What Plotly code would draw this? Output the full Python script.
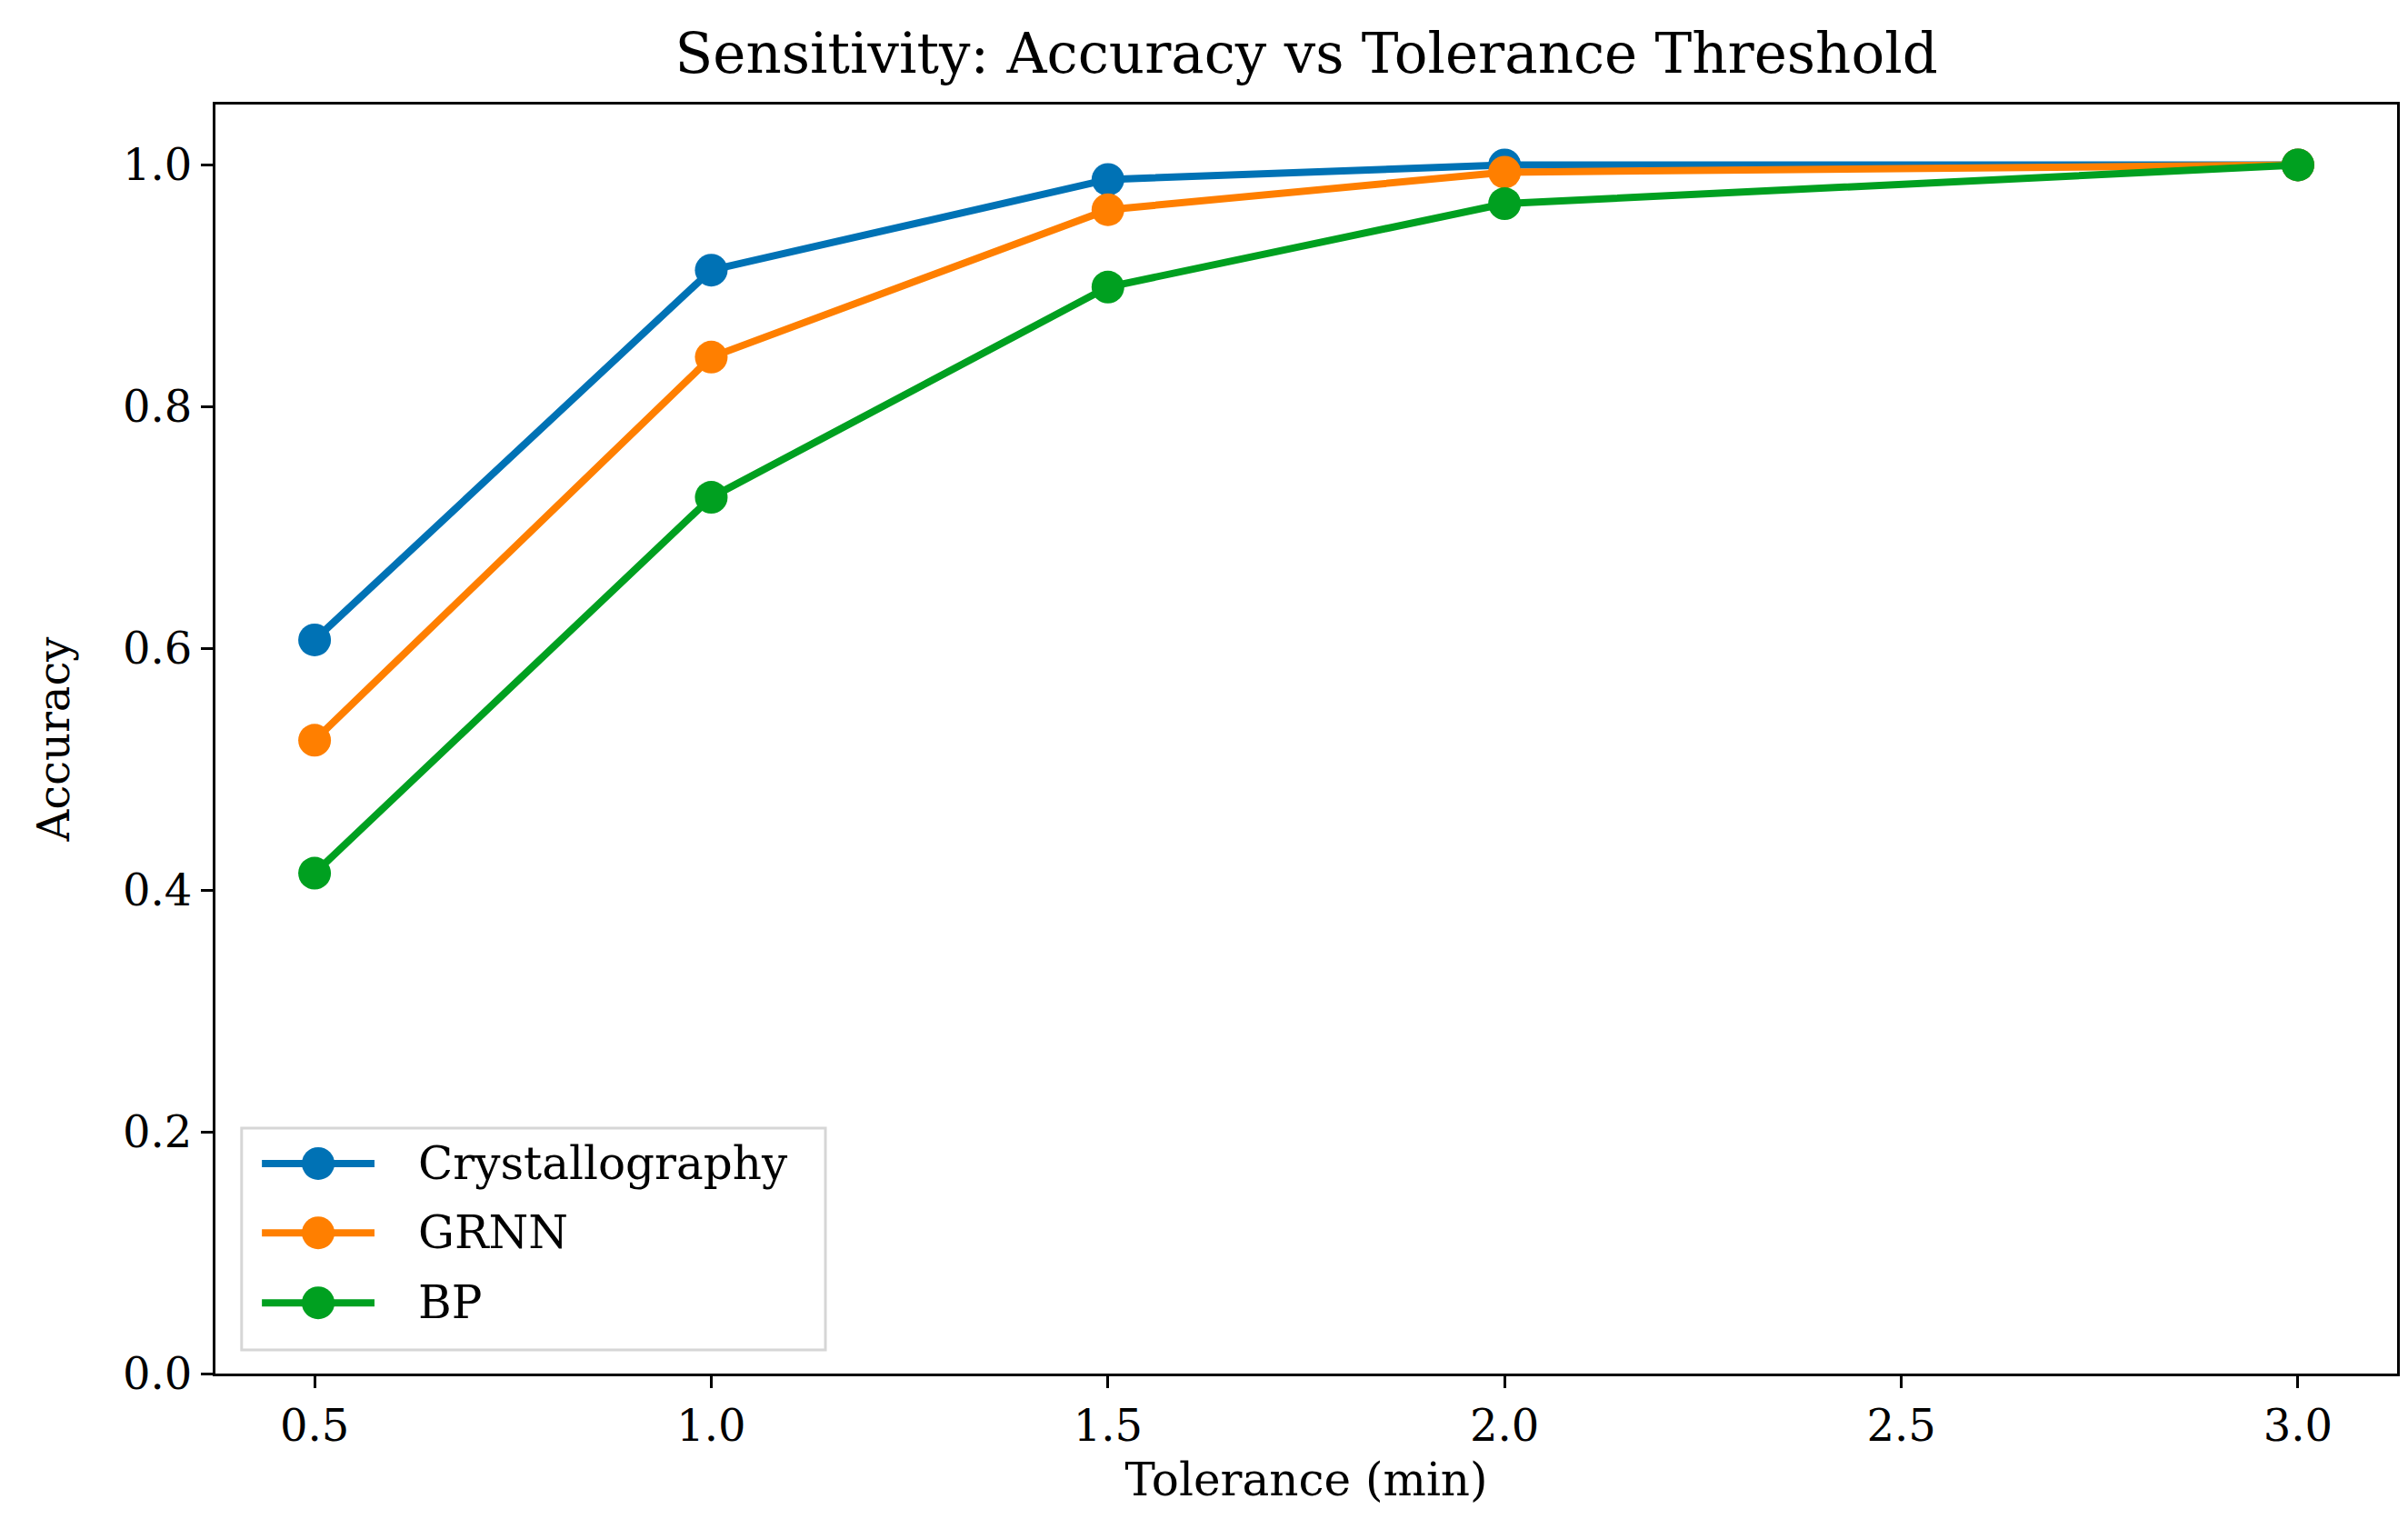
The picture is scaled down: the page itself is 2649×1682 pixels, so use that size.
import plotly.graph_objects as go

# Tolerance thresholds (min) and accuracy per method
tolerance = [0.5, 1.0, 1.5, 2.0, 3.0]
crystallography = [0.607, 0.913, 0.988, 1.0, 1.0]
grnn = [0.524, 0.841, 0.963, 0.994, 1.0]
bp = [0.414, 0.725, 0.899, 0.968, 1.0]

series = [
    ("Crystallography", crystallography, "#0072B5"),
    ("GRNN", grnn, "#FF7F00"),
    ("BP", bp, "#00A020"),
]

FONT = "DejaVu Serif"

fig = go.Figure()
for name, values, color in series:
    fig.add_trace(
        go.Scatter(
            x=tolerance,
            y=values,
            mode="lines+markers",
            name=name,
            line=dict(color=color, width=8),
            marker=dict(color=color, size=36),
            showlegend=False,
        )
    )

# matplotlib-style legend box (lower left), drawn in paper coordinates
fig.add_shape(
    type="rect", xref="paper", yref="paper",
    x0=0.012, x1=0.2796, y0=0.0186, y1=0.1934,
    line=dict(color="#d6d6d6", width=3), fillcolor="rgba(255,255,255,0.85)",
    layer="above",
)
row_y = [0.1655, 0.1109, 0.0557]
for (name, _, color), ry in zip(series, row_y):
    fig.add_shape(
        type="line", xref="paper", yref="paper",
        x0=0.0213, x1=0.0729, y0=ry, y1=ry,
        line=dict(color=color, width=8), layer="above",
    )
    fig.add_shape(
        type="circle", xref="paper", yref="paper",
        xsizemode="pixel", ysizemode="pixel",
        xanchor=0.0471, yanchor=ry,
        x0=-18, x1=18, y0=-18, y1=18,
        line=dict(color=color, width=0), fillcolor=color, layer="above",
    )
    fig.add_annotation(
        x=0.0921, y=ry, xref="paper", yref="paper",
        text=name, showarrow=False, xanchor="left", yanchor="middle",
        font=dict(family=FONT, size=50, color="black"),
    )

axis_common = dict(
    showline=True,
    linecolor="black",
    linewidth=3,
    mirror=True,
    showgrid=False,
    zeroline=False,
    ticks="outside",
    ticklen=13,
    tickwidth=3,
    tickcolor="black",
    tickfont=dict(family=FONT, size=48, color="black"),
)

fig.update_layout(
    width=2649,
    height=1682,
    paper_bgcolor="white",
    plot_bgcolor="white",
    font=dict(family=FONT, color="black"),
    title=dict(
        text="Sensitivity: Accuracy vs Tolerance Threshold",
        font=dict(family=FONT, size=61, color="black"),
        x=0.5395,
        xanchor="center",
        y=0.97,
        yanchor="middle",
    ),
    xaxis=dict(
        **axis_common,
        range=[0.375, 3.125],
        tickvals=[0.5, 1.0, 1.5, 2.0, 2.5, 3.0],
        ticktext=["0.5", "1.0", "1.5", "2.0", "2.5", "3.0"],
        title=dict(text="Tolerance (min)", font=dict(family=FONT, size=50), standoff=16),
    ),
    yaxis=dict(
        **axis_common,
        range=[0, 1.05],
        tickvals=[0.0, 0.2, 0.4, 0.6, 0.8, 1.0],
        ticktext=["0.0", "0.2", "0.4", "0.6", "0.8", "1.0"],
        title=dict(text="Accuracy", font=dict(family=FONT, size=48), standoff=44),
    ),
    showlegend=False,
    margin=dict(l=229, r=20, t=107, b=179),
)

fig.write_html("out.html")
